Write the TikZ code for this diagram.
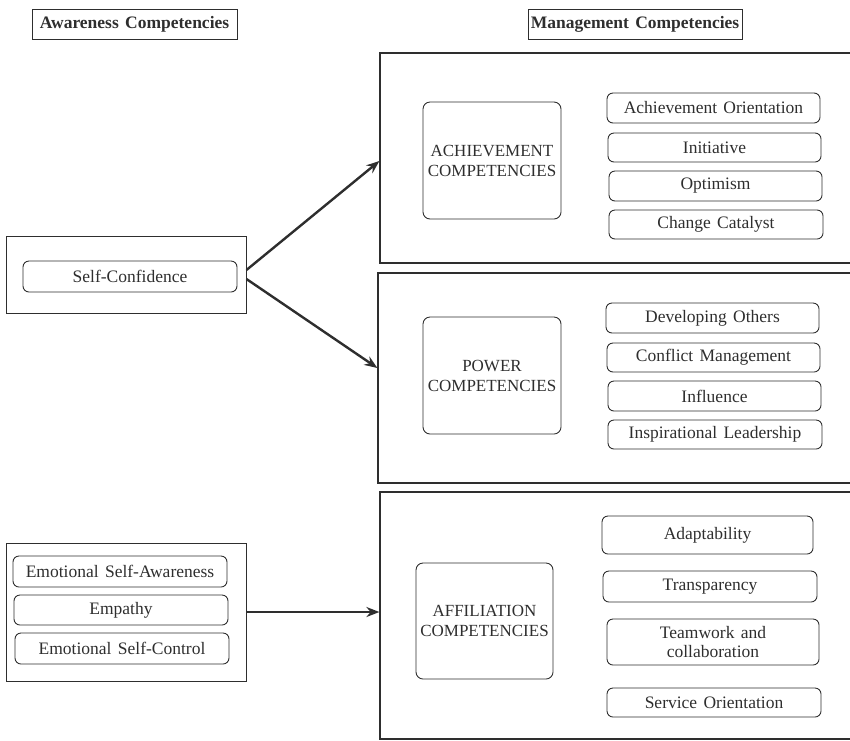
\documentclass[tikz,border=0pt]{standalone}
\usepackage{fontspec}
\setmainfont{Liberation Serif}[WordSpace=1.45]
\usetikzlibrary{arrows.meta,calc}
\definecolor{ink}{HTML}{2E2E2E}
\tikzset{
  headbox/.style={draw=ink, line width=0.9pt, rectangle, inner sep=0pt,
    font=\fontsize{17.5}{19}\selectfont\bfseries, text=ink},
  groupbox/.style={draw=ink, line width=1.2pt, rectangle, inner sep=0pt},
  outerbox/.style={draw=ink, line width=0.9pt, rectangle, inner sep=0pt},
  itembox/.style={draw=ink, line width=0.9pt, rectangle, rounded corners=6pt,
    inner sep=0pt, font=\fontsize{17.5}{19}\selectfont, text=ink, align=center},
  capbox/.style={draw=ink, line width=0.9pt, rectangle, rounded corners=7pt,
    inner sep=0pt, font=\fontsize{17}{20}\selectfont, text=ink, align=center},
  link/.style={draw=ink, line width=2.4pt, -{Stealth[length=13pt,width=10pt]}},
}
\begin{document}
\begin{tikzpicture}[x=1pt, y=-1pt]
  \useasboundingbox (0,0) rectangle (850,740);
  \clip (0,0) rectangle (850,740);

  % column headings
  \node[headbox, minimum width=205pt, minimum height=30pt] (hawar) at (134.5,24) {Awareness Competencies};
  \node[headbox, minimum width=214pt, minimum height=30pt] (hmgmt) at (635,24) {Management Competencies};

  % management groups (open to the right)
  \node[groupbox, minimum width=490pt, minimum height=210pt] (achbig) at (625,158) {};
  \node[groupbox, minimum width=492pt, minimum height=210pt] (powbig) at (624,378) {};
  \node[groupbox, minimum width=490pt, minimum height=247pt] (affbig) at (625,615.5) {};

  % achievement
  \node[capbox, minimum width=138pt, minimum height=117pt] (ach) at (492,160.5) {ACHIEVEMENT\\COMPETENCIES};
  \node[itembox, minimum width=213pt, minimum height=30pt] (ao)  at (713.5,108)   {Achievement Orientation};
  \node[itembox, minimum width=213pt, minimum height=29pt] (ini) at (714.5,147.5) {Initiative};
  \node[itembox, minimum width=213pt, minimum height=30pt] (opt) at (715.5,186)   {Optimism};
  \node[itembox, minimum width=214pt, minimum height=29pt] (cc)  at (716,224.5)   {Change Catalyst};

  % power
  \node[capbox, minimum width=138pt, minimum height=117pt] (pow) at (492,375.5) {POWER\\COMPETENCIES};
  \node[itembox, minimum width=213pt, minimum height=30pt] (dev) at (712.5,318)   {Developing Others};
  \node[itembox, minimum width=213pt, minimum height=29pt] (cm)  at (713.5,357.5) {Conflict Management};
  \node[itembox, minimum width=213pt, minimum height=30pt] (inf) at (714.5,396)   {Influence};
  \node[itembox, minimum width=214pt, minimum height=29pt] (il)  at (715,434.5)   {Inspirational Leadership};

  % affiliation
  \node[capbox, minimum width=137pt, minimum height=116pt] (aff) at (484.5,621) {AFFILIATION\\COMPETENCIES};
  \node[itembox, minimum width=211pt, minimum height=38pt] (ada) at (707.5,535)   {Adaptability};
  \node[itembox, minimum width=214pt, minimum height=31pt] (tra) at (710,586.5)   {Transparency};
  \node[itembox, minimum width=212pt, minimum height=46pt] (tea) at (713,642)     {Teamwork and\\collaboration};
  \node[itembox, minimum width=214pt, minimum height=29pt] (ser) at (714,702.5)   {Service Orientation};

  % awareness groups
  \node[outerbox, minimum width=240pt, minimum height=77pt] (scout) at (126,274.5) {};
  \node[itembox, minimum width=214pt, minimum height=31pt] (sc) at (130,276.5) {Self-Confidence};

  \node[outerbox, minimum width=240pt, minimum height=138pt] (emo) at (126,612) {};
  \node[itembox, minimum width=214pt, minimum height=31pt] (esa) at (120,571.5) {Emotional Self-Awareness};
  \node[itembox, minimum width=214pt, minimum height=30pt] (emp) at (121,610)   {Empathy};
  \node[itembox, minimum width=214pt, minimum height=31pt] (esc) at (122,648.5) {Emotional Self-Control};

  % links
  \draw[link] ($(scout.east)+(0,-4.5)$) -- ($(achbig.west)+(0,3)$);
  \draw[link] ($(scout.east)+(0,4.5)$) -- ($(powbig.west)+(0,-10)$);
  \draw[link] (emo.east) -- (emo.east -| affbig.west);
\end{tikzpicture}
\end{document}
